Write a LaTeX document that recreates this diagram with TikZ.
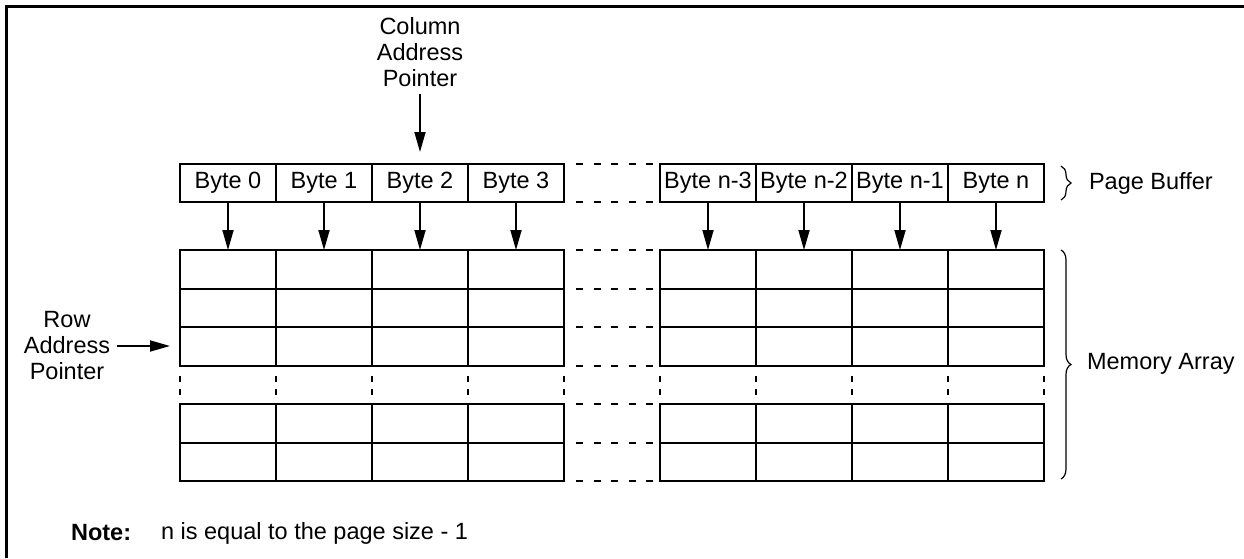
\documentclass[tikz,border=0pt]{standalone}
\usepackage{fontspec}
\setmainfont{Liberation Sans}
\usepackage{tikz}
\usetikzlibrary{arrows.meta, positioning, decorations.pathreplacing}
\tikzset{
  cell/.style={line width=1pt},
  bytebox/.style={draw, line width=1pt, minimum width=48pt, minimum height=19pt, inner sep=0pt, outer sep=0pt},
  ptr/.style={-{Triangle[length=10pt,width=5.5pt]}, line width=0.9pt},
  gapline/.style={line width=1pt, dash pattern=on 3.5pt off 5.25pt},
  gaprow/.style={line width=1pt, dash pattern=on 3pt off 3.25pt},
  brace/.style={decorate, decoration={brace, amplitude=5pt}, line width=0.6pt},
}

\begin{document}
\begin{tikzpicture}[x=0.5pt, y=-0.5pt, font=\fontsize{11.75pt}{13pt}\selectfont]
\useasboundingbox (0,0) rectangle (1244,558);

% frame
\draw[line width=1.25pt] (6.5,558) -- (6.5,6.5) -- (1244,6.5);

% page buffer
\node[bytebox] (b0) at (228,183) {Byte 0};
\node[bytebox, right=0pt of b0] (b1) {Byte 1};
\node[bytebox, right=0pt of b1] (b2) {Byte 2};
\node[bytebox, right=0pt of b2] (b3) {Byte 3};
\node[bytebox, right=48pt of b3] (b4) {Byte n-3};
\node[bytebox, right=0pt of b4] (b5) {Byte n-2};
\node[bytebox, right=0pt of b5] (b6) {Byte n-1};
\node[bytebox, right=0pt of b6] (b7) {Byte n};

% memory array
\draw[cell] (180,250) rectangle (564,365.5) (660,250) rectangle (1044,365.5);
\draw[cell] (180,404) rectangle (564,481) (660,404) rectangle (1044,481);
\draw[cell] (180,288.5) -- (564,288.5) (660,288.5) -- (1044,288.5)
  (180,327) -- (564,327) (660,327) -- (1044,327)
  (180,442.5) -- (564,442.5) (660,442.5) -- (1044,442.5);
\draw[cell] (276,250) -- (276,365.5) (276,404) -- (276,481)
  (372,250) -- (372,365.5) (372,404) -- (372,481)
  (468,250) -- (468,365.5) (468,404) -- (468,481)
  (756,250) -- (756,365.5) (756,404) -- (756,481)
  (852,250) -- (852,365.5) (852,404) -- (852,481)
  (948,250) -- (948,365.5) (948,404) -- (948,481);

% the parts left out
\draw[gapline] (576,164) -- (653,164) (576,202) -- (653,202)
  (576,250) -- (653,250) (576,288.5) -- (653,288.5)
  (576,327) -- (653,327) (576,365.5) -- (653,365.5)
  (576,404) -- (653,404) (576,442.5) -- (653,442.5)
  (576,481) -- (653,481);
\draw[gaprow] (180,376) -- (180,394.5) (276,376) -- (276,394.5)
  (372,376) -- (372,394.5) (468,376) -- (468,394.5)
  (564,376) -- (564,394.5) (660,376) -- (660,394.5)
  (756,376) -- (756,394.5) (852,376) -- (852,394.5)
  (948,376) -- (948,394.5) (1044,376) -- (1044,394.5);

% byte -> memory
\coordinate (m0) at (228,250);
\coordinate (m1) at (324,250);
\coordinate (m2) at (420,250);
\coordinate (m3) at (516,250);
\coordinate (m4) at (708,250);
\coordinate (m5) at (804,250);
\coordinate (m6) at (900,250);
\coordinate (m7) at (996,250);
\draw[ptr] (b0) -- (m0);
\draw[ptr] (b1) -- (m1);
\draw[ptr] (b2) -- (m2);
\draw[ptr] (b3) -- (m3);
\draw[ptr] (b4) -- (m4);
\draw[ptr] (b5) -- (m5);
\draw[ptr] (b6) -- (m6);
\draw[ptr] (b7) -- (m7);

% pointers
\node[align=center] (colptr) at (420,52) {Column\\Address\\Pointer};
\draw[ptr, shorten >=6pt] (colptr) -- (b2);
\node[align=center] (rowptr) at (67,346) {Row\\Address\\Pointer};
\coordinate (rowin) at (180,346);
\draw[ptr, shorten >=5pt] (rowptr) -- (rowin);

% braces
\coordinate (pbtop) at (1061,166);
\coordinate (pbbot) at (1061,200);
\draw[brace] (pbtop) -- (pbbot);
\node[anchor=west] (pblabel) at (1082,183) {Page Buffer};
\coordinate (matop) at (1061,250);
\coordinate (mabot) at (1061,479);
\draw[brace] (matop) -- (mabot);
\node[anchor=west] (malabel) at (1080,364) {Memory Array};

% note
\node[anchor=west] (note) at (64,533) {\textbf{Note:}};
\node[anchor=west] (notetext) at (154,533) {n is equal to the page size - 1};

\end{tikzpicture}
\end{document}
